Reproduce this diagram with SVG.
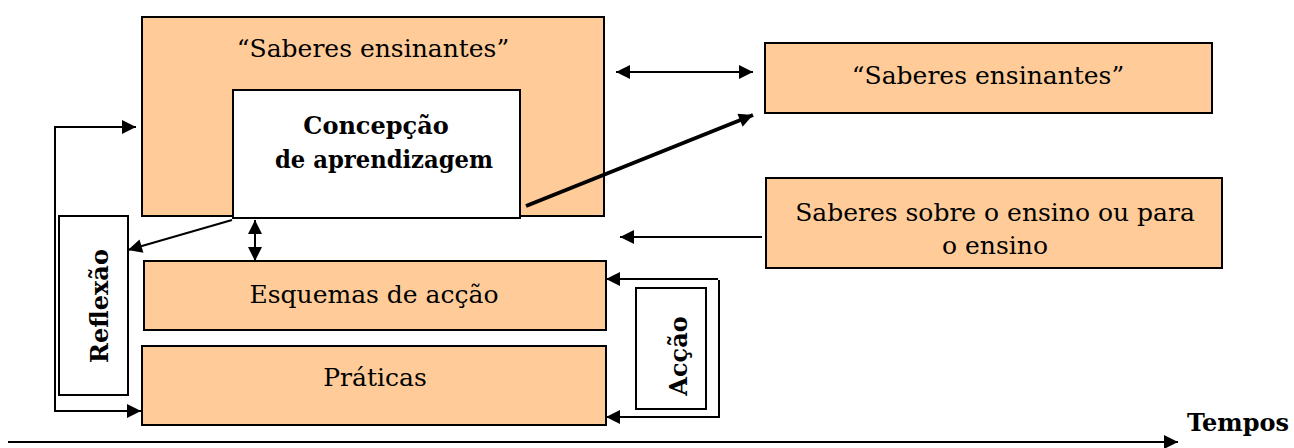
<svg xmlns="http://www.w3.org/2000/svg" width="1294" height="448" viewBox="0 0 1294 448">
<style>
.box{fill:#FFCC99;stroke:#000;stroke-width:2}
.wbox{fill:#fff;stroke:#000;stroke-width:2}
text{font-family:'DejaVu Serif','Liberation Serif',serif}
.t{font-size:25px;fill:#000;text-anchor:middle}
.b{font-weight:bold;font-size:24px}
.ln{stroke:#000;stroke-width:2;fill:none}
</style>
<defs>
<marker id="ahL" viewBox="0 0 10 10" refX="10" refY="5" markerWidth="18" markerHeight="14" markerUnits="userSpaceOnUse" orient="auto-start-reverse"><path d="M0,0 L10,5 L0,10 z" fill="#000"/></marker>
</defs>
<rect width="1294" height="448" fill="#fff"/>
<g id="saberes-outer"><rect class="box" x="142" y="17" width="462" height="199"/><text class="t" x="373" y="57">“Saberes ensinantes”</text></g>
<g id="concepcao"><rect class="wbox" x="233" y="90" width="287" height="128"/><text class="t b" x="376" y="134">Concepção</text><text class="t b" x="384" y="168" textLength="218" lengthAdjust="spacingAndGlyphs">de aprendizagem</text></g>
<g id="saberes-right"><rect class="box" x="765" y="43" width="447" height="70"/><text class="t" x="988" y="84">“Saberes ensinantes”</text></g>
<g id="saberes-sobre"><rect class="box" x="766" y="178" width="456" height="90"/><text class="t" x="995" y="221">Saberes sobre o ensino ou para</text><text class="t" x="995" y="254">o ensino</text></g>
<g id="esquemas"><rect class="box" x="144" y="261" width="462" height="69"/><text class="t" x="374" y="303">Esquemas de acção</text></g>
<g id="praticas"><rect class="box" x="142" y="346" width="464" height="79"/><text class="t" x="375" y="386">Práticas</text></g>
<g id="reflexao"><rect class="wbox" x="59" y="216" width="69" height="179"/><text class="t b" transform="translate(108,306) rotate(-90)">Reflexão</text></g>
<g id="accao"><rect class="wbox" x="636" y="288" width="70" height="121"/><text class="t b" transform="translate(687,356) rotate(-90)">Acção</text></g>
<g id="tempos"><text class="t b" x="1238" y="431">Tempos</text></g>
<g id="connectors">
<line class="ln" x1="616" y1="72" x2="753" y2="72" marker-start="url(#ahL)" marker-end="url(#ahL)"/>
<line x1="526" y1="206" x2="753" y2="115" stroke="#000" stroke-width="4" marker-end="url(#ahL)"/>
<line class="ln" x1="232" y1="220" x2="128" y2="250" marker-end="url(#ahL)"/>
<line class="ln" x1="255" y1="220" x2="255" y2="261" marker-start="url(#ahL)" marker-end="url(#ahL)"/>
<line class="ln" x1="762" y1="237" x2="620" y2="237" marker-end="url(#ahL)"/>
<line class="ln" x1="55" y1="126" x2="55" y2="412"/>
<line class="ln" x1="55" y1="127" x2="136" y2="127" marker-end="url(#ahL)"/>
<line class="ln" x1="56" y1="411" x2="141" y2="411" marker-end="url(#ahL)"/>
<line class="ln" x1="719" y1="280" x2="719" y2="418"/>
<line class="ln" x1="718" y1="279" x2="606" y2="279" marker-end="url(#ahL)"/>
<line class="ln" x1="718" y1="417" x2="606" y2="417" marker-end="url(#ahL)"/>
<line class="ln" x1="8" y1="442" x2="1178" y2="442" marker-end="url(#ahL)"/>
</g>
</svg>
